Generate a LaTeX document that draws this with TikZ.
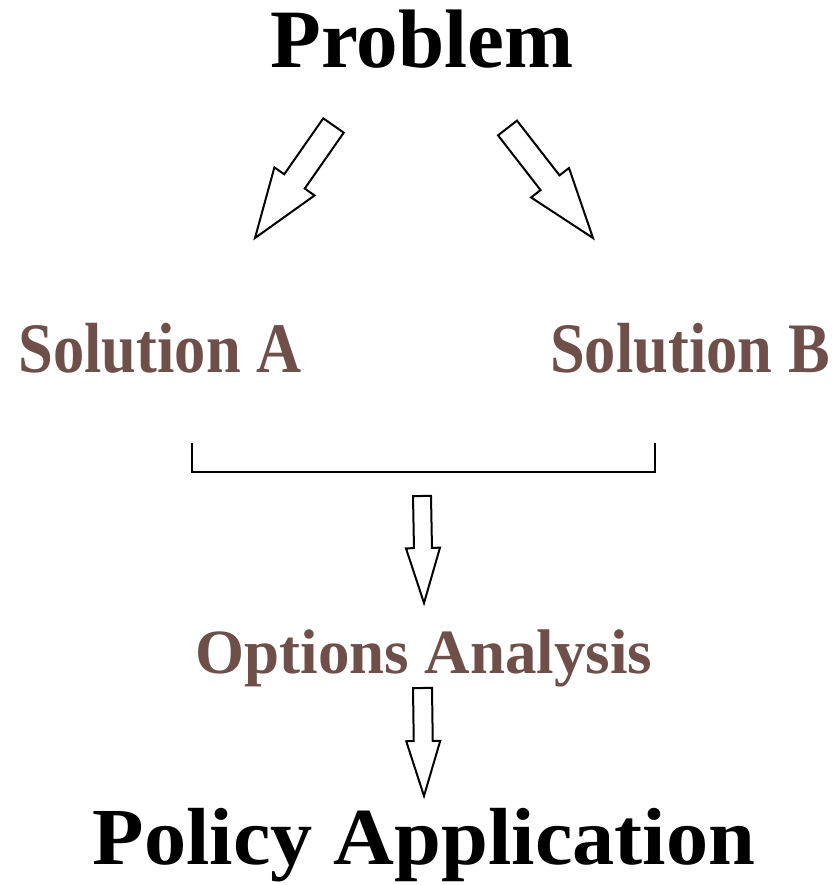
\documentclass[tikz,border=0pt]{standalone}
\usepackage{fontspec}
\setmainfont{Liberation Serif}
\usetikzlibrary{calc,positioning}
\definecolor{solbrown}{RGB}{110,79,73}

\tikzset{
  bigtitle/.style={inner sep=0, anchor=base, font=\fontsize{83}{83}\selectfont\bfseries},
  soltext/.style={inner sep=0, anchor=base, text=solbrown, xscale=0.88, font=\fontsize{71}{71}\selectfont\bfseries},
  blockarrow/.style n args={3}{draw=black, fill=white, line width=2pt, line join=miter,
    to path={($(\tikztostart)!#1!90:(\tikztotarget)$)
      -- ($(\tikztotarget)!#3!(\tikztostart)!#1!-90:(\tikztostart)$)
      -- ($(\tikztotarget)!#3!(\tikztostart)!#2!-90:(\tikztostart)$)
      -- (\tikztotarget)
      -- ($(\tikztotarget)!#3!(\tikztostart)!#2!90:(\tikztostart)$)
      -- ($(\tikztotarget)!#3!(\tikztostart)!#1!90:(\tikztostart)$)
      -- ($(\tikztostart)!#1!-90:(\tikztotarget)$) -- cycle}},
}

\begin{document}
\begin{tikzpicture}[x=1pt, y=-1pt]

\useasboundingbox (0,0) rectangle (834,885);
%\draw [help lines, step=50](0,0) grid (834,885);

\node [bigtitle] (prob) at (422,68) {Problem};
\node [soltext] (solA) at (160,372) {Solution A};
\node [soltext] (solB) at (690,372) {Solution B};
\node [soltext, xscale=1/0.88, font=\fontsize{63}{63}\selectfont\bfseries] (opts) at (424,673) {Options Analysis};
\node [bigtitle, xscale=1.04, font=\fontsize{81}{81}\selectfont\bfseries] (policy) at (424,864) {Policy Application};

\coordinate (pa) at (333.5,125.5);
\coordinate (pb) at (507.5,128);
\coordinate (sa) at (255,238);
\coordinate (sb) at (593,238);
\coordinate (brL) at (192,443);
\coordinate (brR) at (655,443);
\coordinate (oa) at (422,496);
\coordinate (ob) at (424,603);
\coordinate (pc) at (422.5,688);
\coordinate (pd) at (424,796);

\draw [blockarrow={12.5pt}{24.5pt}{69pt}] (pa) to (sa);
\draw [blockarrow={12pt}{24pt}{70pt}] (pb) to (sb);

\draw [line width=1.8pt] (brL) -- ++(0,29) -| (brR);

\draw [blockarrow={9pt}{17pt}{55pt}] (oa) to (ob);
\draw [blockarrow={9.5pt}{17pt}{55pt}] (pc) to (pd);

\end{tikzpicture}
\end{document}
